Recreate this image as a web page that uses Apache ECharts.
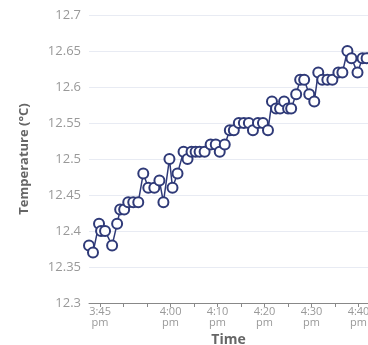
<!DOCTYPE html>
<html>
<head>
<meta charset="utf-8">
<script src="https://cdn.jsdelivr.net/npm/echarts@6/dist/echarts.min.js"></script>
<style>
	html, body { margin: 0; padding: 0; background: #fff; }
	#chart { width: 368px; height: 345px; }
</style>
</head>
<body>
<div id="chart"></div>
<script>
	// readings, local time (pm)
	const times = [
		"15:42:39", "15:43:30", "15:44:47", "15:45:13", "15:46:04", "15:47:34", "15:48:38", "15:49:17",
		"15:50:08", "15:51:00", "15:52:04", "15:53:08", "15:54:12", "15:55:16", "15:56:33", "15:57:38",
		"15:58:29", "15:59:46", "16:00:25", "16:01:29", "16:02:46", "16:03:37", "16:04:28", "16:05:20",
		"16:06:11", "16:07:15", "16:08:32", "16:09:37", "16:10:28", "16:11:32", "16:12:37", "16:13:28",
		"16:14:32", "16:15:36", "16:16:40", "16:17:32", "16:18:36", "16:19:40", "16:20:44", "16:21:35",
		"16:22:27", "16:23:18", "16:24:10", "16:25:01", "16:25:40", "16:26:44", "16:27:35", "16:28:26",
		"16:29:31", "16:30:35", "16:31:26", "16:32:17", "16:33:22", "16:34:26", "16:35:43", "16:36:34",
		"16:37:38", "16:38:30", "16:39:47", "16:40:51", "16:41:43"
	]
	const temps = [
		12.38, 12.37, 12.41, 12.40, 12.40, 12.38, 12.41, 12.43,
		12.43, 12.44, 12.44, 12.44, 12.48, 12.46, 12.46, 12.47,
		12.44, 12.50, 12.46, 12.48, 12.51, 12.50, 12.51, 12.51,
		12.51, 12.51, 12.52, 12.52, 12.51, 12.52, 12.54, 12.54,
		12.55, 12.55, 12.55, 12.54, 12.55, 12.55, 12.54, 12.58,
		12.57, 12.57, 12.58, 12.57, 12.57, 12.59, 12.61, 12.61,
		12.59, 12.58, 12.62, 12.61, 12.61, 12.61, 12.62, 12.62,
		12.65, 12.64, 12.62, 12.64, 12.64
	]
	// minutes after 3:00 pm
	const tickMinutes = [45, 50, 55, 60, 65, 70, 75, 80, 85, 90, 95, 100]
	const labelMinutes = [45, 60, 70, 80, 90, 100]

	function toMinutes(s) {
		const p = s.split(":").map(Number)
		return (p[0] - 15) * 60 + p[1] + p[2] / 60
	}

	function fmtTime(m) {
		const h = 3 + Math.floor(m / 60)
		const mm = Math.round(m % 60)
		return h + ":" + (mm < 10 ? "0" + mm : mm) + "\npm"
	}

	const data = times.map((t, i) => [toMinutes(t), temps[i]])

	const chart = echarts.init(document.getElementById("chart"))
	chart.setOption({
		animation: false,
		textStyle: { fontFamily: "Open Sans, sans-serif" },
		grid: { left: 89, right: 0, top: 15, bottom: 42, outerBoundsMode: "none", containLabel: false },
		xAxis: {
			type: "value",
			min: data[0][0],
			max: data[data.length - 1][0] + 0.3,
			name: "Time",
			nameLocation: "middle",
			nameGap: 22,
			nameTextStyle: { color: "#666", fontSize: 14, fontWeight: "bold" },
			axisLine: { lineStyle: { color: "#888" } },
			axisTick: { customValues: tickMinutes, length: 4, lineStyle: { color: "#888" } },
			axisLabel: {
				customValues: labelMinutes,
				formatter: fmtTime,
				color: "#999",
				fontSize: 11,
				lineHeight: 11,
				margin: 3
			},
			splitLine: { show: false }
		},
		yAxis: {
			type: "value",
			min: 12.3,
			max: 12.7,
			interval: 0.05,
			name: "Temperature (°C)",
			nameLocation: "middle",
			nameGap: 58,
			nameTextStyle: { color: "#666", fontSize: 13, fontWeight: "bold" },
			axisLine: { show: false },
			axisTick: { show: false },
			axisLabel: {
				color: "#999",
				fontSize: 13,
				margin: 8,
				formatter: v => String(+v.toFixed(2))
			},
			splitLine: { lineStyle: { color: "#e8ebf3" } }
		},
		series: [
			{
				type: "line",
				data: data,
				symbol: "emptyCircle",
				symbolSize: 10,
				lineStyle: { color: "#2f3a78", width: 1.5 },
				itemStyle: { color: "#2f3a78", borderWidth: 2 }
			}
		]
	})
</script>
</body>
</html>
